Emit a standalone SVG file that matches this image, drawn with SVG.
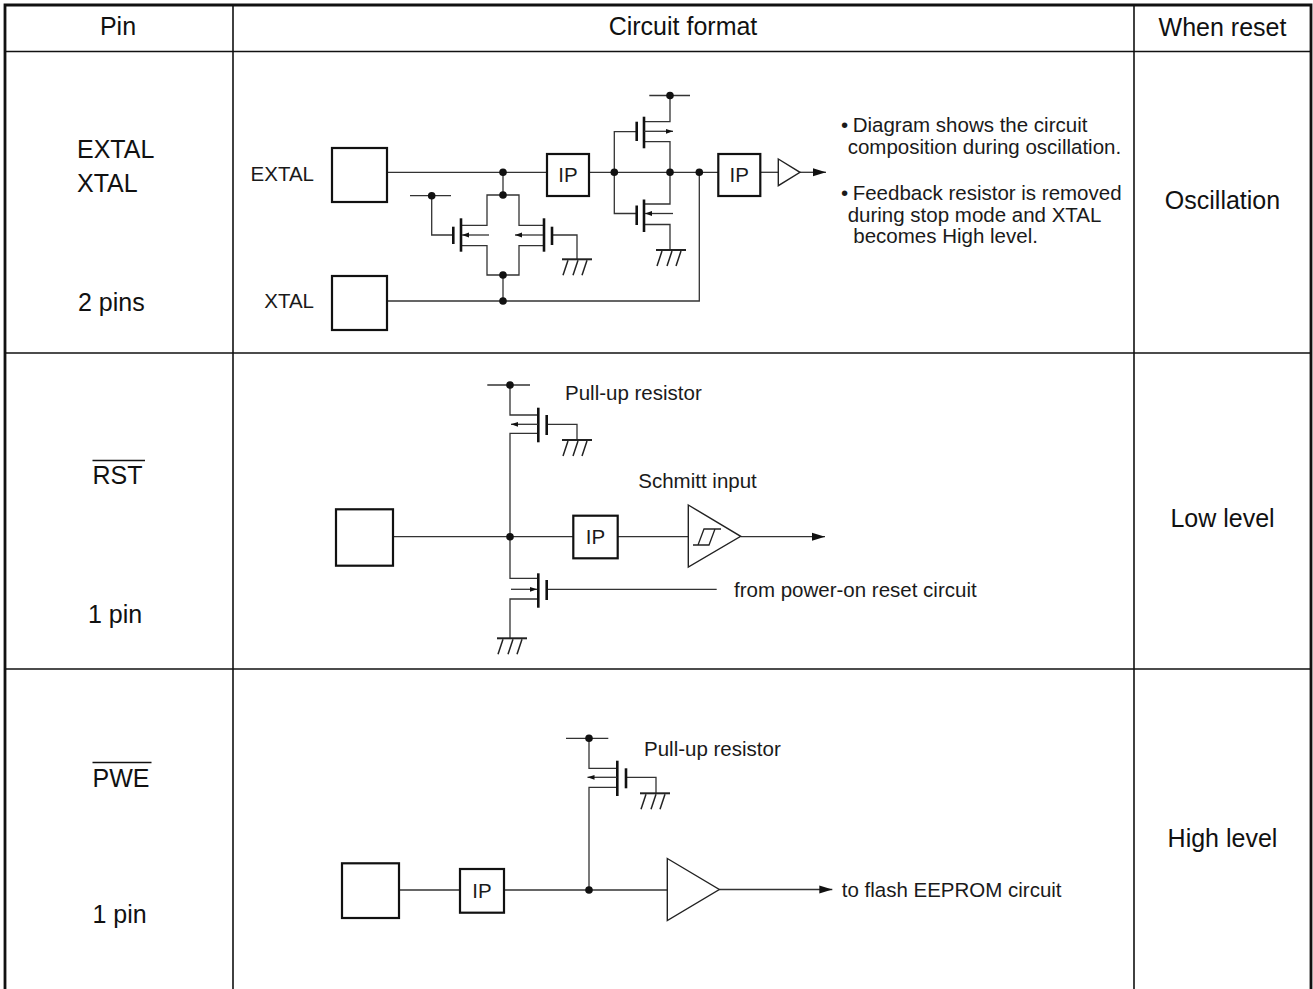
<svg xmlns="http://www.w3.org/2000/svg" xmlns:xlink="http://www.w3.org/1999/xlink" width="1313" height="989" viewBox="0 0 1313 989">
<style>
.big{font-family:"Liberation Sans",Arial,sans-serif;font-size:25px;fill:#111}
.sm{font-family:"Liberation Sans",Arial,sans-serif;font-size:20.5px;fill:#1a1a1a}
.mid{text-anchor:middle}
.w{fill:none;stroke:#333;stroke-width:1.3}
.box{fill:#fff;stroke:#111;stroke-width:2.2}
.bar{stroke:#111;stroke-width:2.6}
.tri{fill:#fff;stroke:#222;stroke-width:1.4}
.dot{fill:#111}
.tl{stroke:#111;stroke-width:1.6;fill:none}
.ol{stroke:#111;stroke-width:2.8;fill:none}
</style>
<defs>
<marker id="arr" markerUnits="userSpaceOnUse" markerWidth="14" markerHeight="10" refX="13" refY="5" orient="auto"><path d="M0,1 L13,5 L0,9 z" fill="#111"/></marker>
<marker id="sarr" markerUnits="userSpaceOnUse" markerWidth="8" markerHeight="6" refX="7" refY="3" orient="auto"><path d="M0,0.6 L7,3 L0,5.4 z" fill="#111"/></marker>
<g id="gnd" stroke="#222" fill="none"><line x1="-15" y1="0" x2="15" y2="0" stroke-width="2"/><line x1="-14" y1="16" x2="-9" y2="1" stroke-width="1.5"/><line x1="-4" y1="16" x2="1" y2="1" stroke-width="1.5"/><line x1="5" y1="16" x2="10" y2="1" stroke-width="1.5"/></g>
</defs>
<rect width="1313" height="989" fill="#fff"/>

<g id="table">
<path class="ol" d="M5,989 V5 H1311 V989"/>
<line class="tl" x1="5" y1="51.5" x2="1311" y2="51.5"/>
<line class="tl" x1="233" y1="5" x2="233" y2="989"/>
<line class="tl" x1="1134" y1="5" x2="1134" y2="989"/>
<line class="tl" x1="5" y1="353" x2="1311" y2="353"/>
<line class="tl" x1="5" y1="669" x2="1311" y2="669"/>
<text class="big mid" x="118" y="35">Pin</text>
<text class="big mid" x="683" y="35">Circuit format</text>
<text class="big mid" x="1222.5" y="36">When reset</text>
</g>

<g id="pin-labels">
<text class="big" x="77" y="158">EXTAL</text>
<text class="big" x="77" y="192">XTAL</text>
<text class="big" x="78" y="311">2 pins</text>
<text class="big" x="92.5" y="484">RST</text>
<line x1="92.5" y1="460.5" x2="145" y2="460.5" stroke="#111" stroke-width="1.6"/>
<text class="big" x="88" y="623">1 pin</text>
<text class="big" x="92.5" y="787">PWE</text>
<line x1="92.5" y1="762.5" x2="151.5" y2="762.5" stroke="#111" stroke-width="1.6"/>
<text class="big" x="92.5" y="923">1 pin</text>
</g>

<g id="reset-states">
<text class="big mid" x="1222.5" y="209">Oscillation</text>
<text class="big mid" x="1222.5" y="527">Low level</text>
<text class="big mid" x="1222.5" y="847">High level</text>
</g>

<g id="connectors">
<path class="w" d="M387,172.3 H547"/>
<path class="w" d="M503,172.3 V195"/>
<path class="w" d="M461,225.3 H487 V195 H519 V225.3 H544"/>
<path class="w" d="M461,245.7 H487 V275 H519 V245.7 H544"/>
<path class="w" d="M503,275 V301"/>
<path class="w" d="M410,195.7 H451"/>
<path class="w" d="M431.7,195.7 V235 H453"/>
<path class="w" d="M552.3,235 H577 V259.3"/>
<path class="w" d="M589,172.3 H718.3"/>
<path class="w" d="M614.3,172.3 V131.7 H636.7"/>
<path class="w" d="M614.3,172.3 V213.5 H636.7"/>
<path class="w" d="M649.3,95.5 H690"/>
<path class="w" d="M644,121.7 H670 V95.5"/>
<path class="w" d="M644,141.7 H670 V204 H644"/>
<path class="w" d="M644,224.5 H670 V250"/>
<path class="w" d="M699.3,172.3 V301 H387"/>
<path class="w" d="M760,172.3 H778.3"/>
<path class="w" d="M800,172.3 H826" marker-end="url(#arr)"/>
<path class="w" d="M393,536.7 H573.3"/>
<path class="w" d="M617.7,536.7 H688.3"/>
<path class="w" d="M740.7,536.7 H825" marker-end="url(#arr)"/>
<path class="w" d="M487.3,385 H530"/>
<path class="w" d="M510,385 V415 H538.3"/>
<path class="w" d="M538.3,433.3 H510 V578.3 H538.3"/>
<path class="w" d="M546.7,424.3 H577 V440"/>
<path class="w" d="M546.7,589.3 H716.7"/>
<path class="w" d="M538.3,599 H510 V638.3"/>
<path class="w" d="M399,890 H460"/>
<path class="w" d="M504,890 H667.3"/>
<path class="w" d="M719.3,889.5 H832.3" marker-end="url(#arr)"/>
<path class="w" d="M566,738.3 H608.3"/>
<path class="w" d="M589,738.3 V768.3 H617.3"/>
<path class="w" d="M617.3,787.3 H589 V890"/>
<path class="w" d="M626,777.3 H656 V793.3"/>
</g>

<g id="osc-pads">
<rect class="box" x="332" y="148" width="55" height="54"/>
<text class="sm" x="314" y="181" text-anchor="end">EXTAL</text>
<rect class="box" x="332" y="276" width="55" height="54"/>
<text class="sm" x="314" y="308" text-anchor="end">XTAL</text>
</g>

<g id="osc-feedback-transistors">
<line class="bar" x1="461" y1="218.3" x2="461" y2="251.7"/>
<line class="bar" x1="453.3" y1="226.7" x2="453.3" y2="244"/>
<line class="w" x1="489" y1="235" x2="462" y2="235" marker-end="url(#sarr)"/>
<line class="bar" x1="544" y1="218.3" x2="544" y2="251.7"/>
<line class="bar" x1="552" y1="226.7" x2="552" y2="245"/>
<line class="w" x1="543" y1="235" x2="515" y2="235" marker-end="url(#sarr)"/>
<use xlink:href="#gnd" x="577" y="259.3"/>
</g>

<g id="osc-ip1">
<rect class="box" x="547" y="154" width="42" height="42"/>
<text class="sm mid" x="568" y="182">IP</text>
</g>

<g id="osc-inverter">
<line class="bar" x1="636.7" y1="121.7" x2="636.7" y2="141"/>
<line class="bar" x1="644" y1="116.7" x2="644" y2="148.3"/>
<line class="w" x1="644" y1="131.3" x2="673" y2="131.3" marker-end="url(#sarr)"/>
<line class="bar" x1="636.7" y1="205.5" x2="636.7" y2="225"/>
<line class="bar" x1="644" y1="199.5" x2="644" y2="232"/>
<line class="w" x1="673" y1="213.5" x2="645" y2="213.5" marker-end="url(#sarr)"/>
<use xlink:href="#gnd" x="671" y="250"/>
</g>

<g id="osc-ip2">
<rect class="box" x="718.3" y="154" width="42" height="42"/>
<text class="sm mid" x="739.3" y="182">IP</text>
</g>

<g id="osc-buffer">
<polygon class="tri" points="778.3,159 800,172.3 778.3,185.7"/>
</g>

<g id="osc-dots">
<circle class="dot" cx="503" cy="172.3" r="3.8"/>
<circle class="dot" cx="503" cy="195" r="3.8"/>
<circle class="dot" cx="503" cy="275" r="3.8"/>
<circle class="dot" cx="503" cy="301" r="3.8"/>
<circle class="dot" cx="431.7" cy="195.7" r="3.8"/>
<circle class="dot" cx="614.3" cy="172.3" r="3.8"/>
<circle class="dot" cx="670" cy="172.3" r="3.8"/>
<circle class="dot" cx="699.3" cy="172.3" r="3.8"/>
<circle class="dot" cx="670" cy="95.5" r="3.8"/>
</g>

<g id="osc-notes">
<text class="sm" x="841" y="132">•</text>
<text class="sm" x="852.7" y="132">Diagram shows the circuit</text>
<text class="sm" x="847.7" y="153.5">composition during oscillation.</text>
<text class="sm" x="841" y="200">•</text>
<text class="sm" x="852.7" y="200">Feedback resistor is removed</text>
<text class="sm" x="847.7" y="221.7">during stop mode and XTAL</text>
<text class="sm" x="853.3" y="243.3">becomes High level.</text>
</g>

<g id="rst-pad">
<rect class="box" x="336" y="509.3" width="57" height="56.4"/>
</g>

<g id="rst-pullup">
<line class="bar" x1="538.3" y1="407.7" x2="538.3" y2="442.3"/>
<line class="bar" x1="546.7" y1="415" x2="546.7" y2="435"/>
<line class="w" x1="538" y1="424.3" x2="511" y2="424.3" marker-end="url(#sarr)"/>
<use xlink:href="#gnd" x="577" y="440"/>
<circle class="dot" cx="510" cy="385" r="3.8"/>
<text class="sm" x="565" y="400">Pull-up resistor</text>
</g>

<g id="rst-ip">
<rect class="box" x="573.3" y="515.7" width="44.4" height="42.6"/>
<text class="sm mid" x="595.5" y="544">IP</text>
</g>

<g id="rst-schmitt">
<polygon class="tri" points="688.3,505 740.7,536.3 688.3,567"/>
<path fill="none" stroke="#222" stroke-width="1.3" d="M693,545 H709 L715,529 M698,545 L704,529 H721"/>
<text class="sm" x="638.3" y="488.3">Schmitt input</text>
</g>

<g id="rst-poweron">
<line class="bar" x1="538.3" y1="573.3" x2="538.3" y2="607.7"/>
<line class="bar" x1="546.7" y1="580" x2="546.7" y2="600"/>
<line class="w" x1="511" y1="589.3" x2="537" y2="589.3" marker-end="url(#sarr)"/>
<use xlink:href="#gnd" x="512" y="638.3"/>
<text class="sm" x="734" y="596.7">from power-on reset circuit</text>
</g>

<g id="rst-dot">
<circle class="dot" cx="510" cy="536.7" r="3.8"/>
</g>

<g id="pwe-pad">
<rect class="box" x="342" y="863.3" width="57" height="54.7"/>
</g>

<g id="pwe-ip">
<rect class="box" x="460" y="869" width="44" height="43.7"/>
<text class="sm mid" x="482" y="898">IP</text>
</g>

<g id="pwe-pullup">
<line class="bar" x1="617.3" y1="760.7" x2="617.3" y2="796"/>
<line class="bar" x1="626" y1="768.3" x2="626" y2="788.3"/>
<line class="w" x1="617" y1="777.3" x2="587.5" y2="777.3" marker-end="url(#sarr)"/>
<use xlink:href="#gnd" x="655" y="793.3"/>
<circle class="dot" cx="589" cy="738.3" r="3.8"/>
<text class="sm" x="644" y="755.7">Pull-up resistor</text>
</g>

<g id="pwe-buffer">
<polygon class="tri" points="667.3,858.5 719.3,889.5 667.3,920.5"/>
<circle class="dot" cx="589" cy="890" r="3.8"/>
<text class="sm" x="841.7" y="897.3">to flash EEPROM circuit</text>
</g>
</svg>
